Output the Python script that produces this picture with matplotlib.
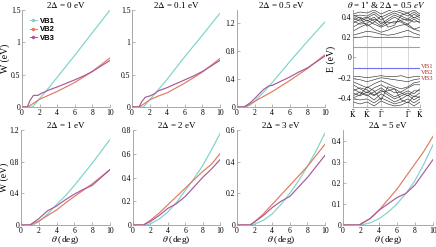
import matplotlib
matplotlib.use("Agg")
import matplotlib.pyplot as plt
from matplotlib.ticker import FuncFormatter
from matplotlib.lines import Line2D

plt.rcParams['font.family'] = ['Liberation Serif', 'DejaVu Serif']
plt.rcParams['mathtext.fontset'] = 'stix'

# ---------------- data ----------------
gaps = ["0", "0.1", "0.5", "1", "2", "3", "5"]

th_vb1 = [
    [0, 1.0, 1.2, 2, 3, 4, 6, 8, 10],
    [0, 1.0, 1.3, 2, 3, 4, 6, 8, 10],
    [0, 1.0, 1.5, 2, 3, 4, 6, 8, 10],
    [0, 1.0, 1.5, 2, 3, 4, 5, 6, 8, 10],
    [0, 1.5, 2, 3, 4, 5, 6, 7, 8, 9, 10],
    [0, 1.5, 2, 3, 4, 5, 6, 7, 8, 9, 10],
    [0, 2, 3, 4, 5, 6, 7, 8, 9, 10],
]
w_vb1 = [
    [0, 0, 0.0, 0.13, 0.29, 0.46, 0.80, 1.15, 1.50],
    [0, 0, 0.0, 0.11, 0.27, 0.43, 0.78, 1.11, 1.45],
    [0, 0, 0.03, 0.08, 0.21, 0.35, 0.65, 0.94, 1.22],
    [0, 0, 0.01, 0.04, 0.14, 0.26, 0.37, 0.50, 0.78, 1.08],
    [0, 0, 0.01, 0.05, 0.11, 0.19, 0.29, 0.39, 0.50, 0.63, 0.77],
    [0, 0, 0.005, 0.03, 0.07, 0.13, 0.20, 0.28, 0.37, 0.47, 0.58],
    [0, 0, 0.01, 0.03, 0.06, 0.10, 0.15, 0.21, 0.29, 0.38],
]

th_vb2 = [
    [0, 0.6, 1.0, 2, 3, 4, 6, 8, 10],
    [0, 0.8, 1.5, 2, 3, 4, 6, 8, 10],
    [0, 0.8, 1.5, 2, 3, 4, 6, 8, 10],
    [0, 1.0, 2, 3, 4, 5, 6, 8, 10],
    [0, 1.2, 2, 3, 4, 5, 6, 7, 8, 9, 10],
    [0, 1.5, 2, 3, 4, 5, 6, 7, 8, 9, 10],
    [0, 1.8, 3, 4, 5, 6, 7, 8, 9, 10],
]
w_vb2 = [
    [0, 0, 0.03, 0.12, 0.18, 0.24, 0.38, 0.55, 0.76],
    [0, 0, 0.06, 0.11, 0.17, 0.22, 0.37, 0.54, 0.75],
    [0, 0, 0.04, 0.08, 0.15, 0.22, 0.38, 0.55, 0.75],
    [0, 0, 0.05, 0.12, 0.19, 0.28, 0.36, 0.52, 0.70],
    [0, 0, 0.04, 0.10, 0.17, 0.24, 0.31, 0.38, 0.45, 0.51, 0.60],
    [0, 0, 0.02, 0.07, 0.13, 0.19, 0.25, 0.31, 0.37, 0.44, 0.51],
    [0, 0, 0.03, 0.07, 0.12, 0.17, 0.23, 0.29, 0.35, 0.42],
]

th_vb3 = [
    [0, 0.6, 0.9, 1.3, 1.8, 2.2, 3, 4, 6, 7, 8, 10],
    [0, 0.8, 1.1, 1.5, 2.0, 2.5, 3, 4, 6, 7, 8, 10],
    [0, 0.8, 1.5, 2, 3, 3.6, 4, 6, 7, 8, 10],
    [0, 1.0, 2, 3, 4, 5, 6, 7, 8, 10],
    [0, 1.2, 2, 3, 4, 5, 6, 7, 8, 9, 10],
    [0, 1.5, 2, 3, 4, 5, 6, 7, 8, 9, 10],
    [0, 1.8, 3, 4, 5, 6, 7, 8, 9, 10],
]
w_vb3 = [
    [0, 0, 0.10, 0.18, 0.18, 0.21, 0.26, 0.31, 0.42, 0.48, 0.55, 0.72],
    [0, 0, 0.08, 0.15, 0.17, 0.20, 0.25, 0.30, 0.42, 0.48, 0.55, 0.72],
    [0, 0, 0.06, 0.12, 0.25, 0.30, 0.31, 0.43, 0.50, 0.56, 0.73],
    [0, 0, 0.08, 0.18, 0.24, 0.32, 0.39, 0.45, 0.50, 0.70],
    [0, 0, 0.03, 0.08, 0.14, 0.18, 0.24, 0.32, 0.40, 0.47, 0.55],
    [0, 0, 0.02, 0.06, 0.11, 0.15, 0.18, 0.24, 0.30, 0.37, 0.44],
    [0, 0, 0.03, 0.07, 0.10, 0.13, 0.15, 0.19, 0.25, 0.31],
]

ylims = [1.5, 1.5, 1.39, 1.2, 0.8, 0.6, 0.45]
yticks = [
    [0, 0.5, 1, 1.5],
    [0, 0.5, 1, 1.5],
    [0, 0.4, 0.8, 1.2],
    [0, 0.4, 0.8, 1.2],
    [0, 0.2, 0.4, 0.6, 0.8],
    [0, 0.2, 0.4, 0.6],
    [0, 0.1, 0.2, 0.3, 0.4],
]
xticks = [0, 2, 4, 6, 8, 10]

# band structure panel
k_pos = [0, 0.105, 0.21, 0.315, 0.42, 0.52, 0.62, 0.72, 0.82, 0.91, 1.0]
k_ticks = [0, 0.21, 0.42, 0.82, 1.0]
k_labels = [r'$\bar{\rm K}$', r"$\bar{\rm K}'$", r'$\bar{\Gamma}$', r'$\bar{\Gamma}$', r'$\bar{\rm K}$']
bands_up = [
    [0.20, 0.20, 0.21, 0.20, 0.20, 0.20, 0.20, 0.20, 0.21, 0.20, 0.20],
    [0.22, 0.24, 0.26, 0.25, 0.23, 0.22, 0.23, 0.25, 0.27, 0.24, 0.22],
    [0.26, 0.30, 0.33, 0.28, 0.25, 0.27, 0.30, 0.32, 0.33, 0.28, 0.26],
    [0.30, 0.34, 0.37, 0.33, 0.30, 0.33, 0.36, 0.35, 0.31, 0.28, 0.30],
    [0.34, 0.38, 0.40, 0.36, 0.31, 0.36, 0.40, 0.36, 0.33, 0.38, 0.34],
    [0.37, 0.40, 0.36, 0.40, 0.33, 0.38, 0.42, 0.39, 0.36, 0.40, 0.37],
    [0.39, 0.36, 0.39, 0.43, 0.37, 0.41, 0.44, 0.41, 0.38, 0.43, 0.39],
    [0.41, 0.42, 0.41, 0.45, 0.40, 0.43, 0.46, 0.44, 0.41, 0.45, 0.41],
    [0.43, 0.45, 0.44, 0.47, 0.43, 0.46, 0.48, 0.46, 0.44, 0.47, 0.43],
    [0.36, 0.33, 0.34, 0.38, 0.35, 0.35, 0.34, 0.37, 0.38, 0.35, 0.36],
    [0.42, 0.39, 0.31, 0.35, 0.41, 0.30, 0.32, 0.42, 0.44, 0.39, 0.42],
]
bands_dn = [
    [-0.19, -0.19, -0.20, -0.19, -0.18, -0.19, -0.19, -0.18, -0.20, -0.19, -0.19],
    [-0.21, -0.22, -0.24, -0.22, -0.20, -0.21, -0.22, -0.23, -0.24, -0.22, -0.21],
    [-0.24, -0.27, -0.30, -0.26, -0.23, -0.26, -0.29, -0.31, -0.29, -0.25, -0.24],
    [-0.27, -0.31, -0.35, -0.30, -0.27, -0.31, -0.35, -0.34, -0.30, -0.27, -0.27],
    [-0.31, -0.35, -0.38, -0.34, -0.30, -0.35, -0.39, -0.36, -0.33, -0.36, -0.31],
    [-0.35, -0.38, -0.34, -0.38, -0.32, -0.37, -0.41, -0.38, -0.35, -0.39, -0.35],
    [-0.38, -0.34, -0.37, -0.42, -0.36, -0.40, -0.44, -0.41, -0.37, -0.42, -0.38],
    [-0.41, -0.42, -0.41, -0.45, -0.40, -0.43, -0.46, -0.44, -0.41, -0.45, -0.41],
    [-0.44, -0.46, -0.44, -0.48, -0.43, -0.46, -0.48, -0.47, -0.44, -0.48, -0.44],
    [-0.33, -0.30, -0.32, -0.37, -0.34, -0.33, -0.31, -0.35, -0.38, -0.33, -0.33],
    [-0.40, -0.37, -0.29, -0.33, -0.42, -0.29, -0.31, -0.42, -0.45, -0.38, -0.40],
]
flat_red = 0.1
flat_blue = -0.1
vb_label_y = [-0.09, -0.15, -0.21]
vb_names = ["VB1", "VB2", "VB3"]

c1, c2, c3 = "#7fd3c9", "#e07a5f", "#a8599c"
gray = "#9a9a9a"

# ---------------- figure ----------------
W, H = 436, 247
fig = plt.figure(figsize=(W / 100, H / 100), dpi=100)


def px_axes(x0, x1, ytop, ybot):
    return fig.add_axes([x0 / W, (H - ybot) / H, (x1 - x0) / W, (ybot - ytop) / H])


fmt = FuncFormatter(lambda v, p: "%g" % v)
TOP = 10
BOT2 = 225
boxes = [
    (22, 110, TOP, 107), (132, 220, TOP, 107), (237, 325, TOP, 107),
    (21, 110, 130, BOT2), (133, 220, 130, BOT2), (237, 325, 130, BOT2), (343, 433, 130, BOT2),
]


def style(ax):
    for s in ["top", "right"]:
        ax.spines[s].set_visible(False)
    for s in ["left", "bottom"]:
        ax.spines[s].set_color(gray)
        ax.spines[s].set_linewidth(0.6)
    ax.tick_params(direction="in", length=2, width=0.5, color=gray, labelsize=5.5, pad=1.2)


for i in range(7):
    ax = px_axes(*boxes[i])
    ax.plot(th_vb1[i], w_vb1[i], color=c1, lw=0.85)
    ax.plot(th_vb2[i], w_vb2[i], color=c2, lw=0.85)
    ax.plot(th_vb3[i], w_vb3[i], color=c3, lw=0.85)
    ax.set_xlim(0, 10)
    ax.set_ylim(0, ylims[i])
    ax.set_xticks(xticks)
    ax.set_yticks(yticks[i])
    ax.xaxis.set_major_formatter(fmt)
    ax.yaxis.set_major_formatter(fmt)
    style(ax)
    ax.set_title(r"2$\Delta$ = %s eV" % gaps[i], fontsize=6.5, pad=0.5)
    if i in (0, 3):
        ax.set_ylabel("W (eV)", fontsize=7, labelpad=0.5)
    if i >= 3:
        ax.set_xlabel(r"$\theta$ (deg)", fontsize=6.8, labelpad=-0.5)
    if i == 0:
        handles = [Line2D([], [], color=c, lw=0.7, marker="o", markersize=1.5)
                   for c in (c1, c2, c3)]
        ax.legend(handles, vb_names, loc="upper left", frameon=False, handlelength=1.0,
                  handletextpad=0.4, labelspacing=0.15, borderaxespad=0.6,
                  prop={"family": "Liberation Sans", "weight": "bold", "size": 5.5})

# band panel
axb = px_axes(353, 420, TOP, 107)
for xv in k_ticks:
    axb.axvline(xv, color="#c8c8c8", lw=0.5)
for b in bands_up + bands_dn:
    axb.plot(k_pos, b, color="#333333", lw=0.45)
axb.axhline(flat_red, color="#f08080", lw=0.8)
axb.axhline(flat_blue, color="#7070f0", lw=0.8)
axb.set_xlim(0, 1)
axb.set_ylim(-0.49, 0.47)
axb.set_xticks(k_ticks)
axb.set_xticklabels(k_labels)
axb.set_yticks([-0.4, -0.2, 0, 0.2, 0.4])
axb.yaxis.set_major_formatter(FuncFormatter(lambda v, p: ("%g" % v).replace("-", "\u2212")))
style(axb)
axb.tick_params(axis="x", labelsize=5.5, pad=1)
axb.set_ylabel("E (eV)", fontsize=7, labelpad=1)
axb.set_title(r"$\theta$ = 1$^{\circ}$ & 2$\Delta$ = 0.5 $eV$", fontsize=6.5, pad=0.5)
for y, n in zip(vb_label_y, vb_names):
    axb.text(1.01, y, n, transform=axb.get_yaxis_transform(), color="#b03030",
             fontsize=4.8, va="center", ha="left")

fig.savefig("out.png", dpi=100)
